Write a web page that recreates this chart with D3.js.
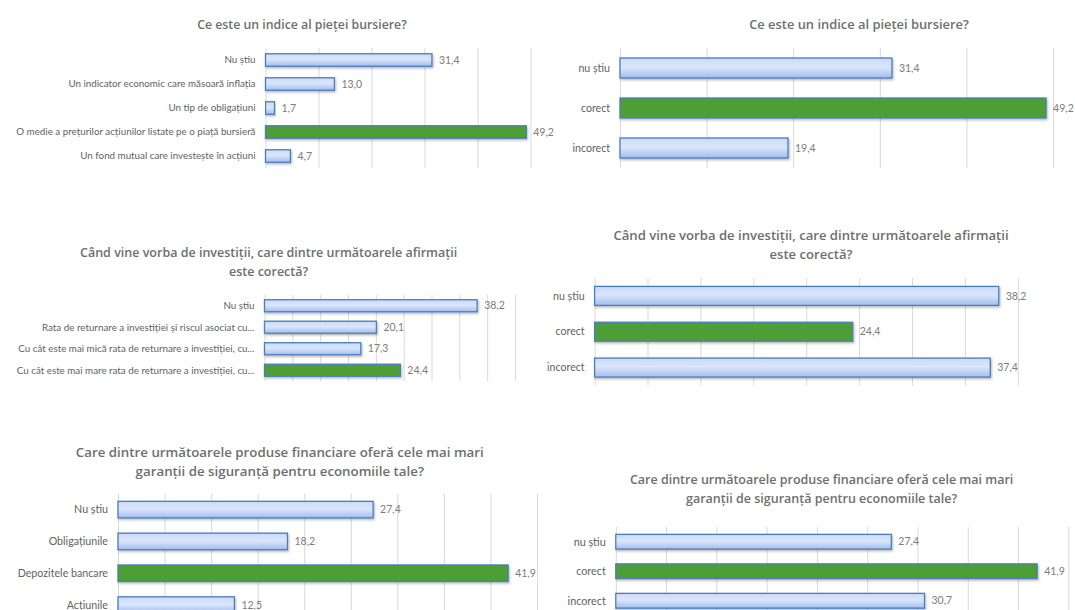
<!DOCTYPE html>
<html>
<head>
<meta charset="utf-8">
<script src="https://cdn.jsdelivr.net/npm/d3@7"></script>
<style>
  html, body { margin: 0; padding: 0; background: #ffffff; }
  svg { display: block; }
  .title { font-family: "Open Sans", "Noto Sans", sans-serif; font-weight: 600; fill: #6e6e6e; }
  .cat { font-family: Lato, "Noto Sans", sans-serif; fill: #626262; }
  .val { font-family: Lato, "Noto Sans", sans-serif; fill: #7c7c7c; }
  .grid line { stroke: #d9d9d9; stroke-width: 1; }
</style>
</head>
<body>
<svg id="chart" width="1075" height="610"></svg>
<script>
// ---- Question 1: stock market index ----
const q1Title = ["Ce este un indice al pieței bursiere?"];
const q1Categories = [
  "Nu știu",
  "Un indicator economic care măsoară inflația",
  "Un tip de obligațiuni",
  "O medie a prețurilor acțiunilor listate pe o piață bursieră",
  "Un fond mutual care investește în acțiuni"
];
const q1Values = [31.4, 13.0, 1.7, 49.2, 4.7];
const q1Correct = 3;

// ---- Question 2: return and risk ----
const q2Title = ["Când vine vorba de investiții, care dintre următoarele afirmații", "este corectă?"];
const q2Categories = [
  "Nu știu",
  "Rata de returnare a investiției și riscul asociat cu...",
  "Cu cât este mai mică rata de returnare a investiției, cu...",
  "Cu cât este mai mare rata de returnare a investiției, cu..."
];
const q2Values = [38.2, 20.1, 17.3, 24.4];
const q2Correct = 3;

// ---- Question 3: safest financial product ----
const q3Title = ["Care dintre următoarele produse financiare oferă cele mai mari", "garanții de siguranță pentru economiile tale?"];
const q3Categories = ["Nu știu", "Obligațiunile", "Depozitele bancare", "Acțiunile"];
const q3Values = [27.4, 18.2, 41.9, 12.5];
const q3Correct = 2;

// ---- Grouped answers (don't know / correct / incorrect) ----
const groupCategories = ["nu știu", "corect", "incorect"];
const groupCorrect = 1;
const q1Grouped = [31.4, 49.2, 19.4];
const q2Grouped = [38.2, 24.4, 37.4];
const q3Grouped = [27.4, 41.9, 30.7];

// ---- Axis maxima and gridline steps ----
const axisMax = [50, 50, 45, 40, 45, 45];
const axisStep = [10, 10, 5, 5, 5, 5];

const fmt = d3.formatLocale({ decimal: ",", thousands: ".", grouping: [3], currency: ["", ""] }).format(".1f");

const svg = d3.select("#chart");
const defs = svg.append("defs");

const grad = defs.append("linearGradient")
  .attr("id", "blueFill").attr("x1", 0).attr("y1", 0).attr("x2", 0).attr("y2", 1);
grad.append("stop").attr("offset", "0%").attr("stop-color", "#cbdaf8");
grad.append("stop").attr("offset", "45%").attr("stop-color", "#dbe6fb");
grad.append("stop").attr("offset", "100%").attr("stop-color", "#a3bdee");

const shadow = defs.append("filter").attr("id", "barShadow")
  .attr("x", "-5%").attr("y", "-20%").attr("width", "115%").attr("height", "160%");
shadow.append("feDropShadow")
  .attr("dx", 1).attr("dy", 1.5).attr("stdDeviation", 1)
  .attr("flood-color", "#000").attr("flood-opacity", 0.28);

// panel layout: plot box, title placement, type sizes
const panels = [
  { title: q1Title, cats: q1Categories, vals: q1Values, correct: q1Correct,
    x0: 265.5, x1: 530.5, y0: 48, y1: 168, pad: 0.48,
    tx: 302, ty: [29], tSize: 12.3, cSize: 9.8, vSize: 10.5 },
  { title: q1Title, cats: groupCategories, vals: q1Grouped, correct: groupCorrect,
    x0: 620, x1: 1053, y0: 48, y1: 168, pad: 0.5,
    tx: 859, ty: [28.5], tSize: 12.9, cSize: 10.6, vSize: 10.5 },
  { title: q2Title, cats: q2Categories, vals: q2Values, correct: q2Correct,
    x0: 264.5, x1: 515, y0: 295, y1: 381, pad: 0.44,
    tx: 268.6, ty: [257, 276], tSize: 12.5, cSize: 9.8, vSize: 10.5 },
  { title: q2Title, cats: groupCategories, vals: q2Grouped, correct: groupCorrect,
    x0: 594.6, x1: 1017.8, y0: 278, y1: 385.5, pad: 0.47,
    tx: 811, ty: [240, 258.5], tSize: 13.1, cSize: 10.6, vSize: 10.5 },
  { title: q3Title, cats: q3Categories, vals: q3Values, correct: q3Correct,
    x0: 118, x1: 537, y0: 493.7, y1: 621, pad: 0.48,
    tx: 279.8, ty: [457, 476], tSize: 13.3, cSize: 10.7, vSize: 10.5 },
  { title: q3Title, cats: groupCategories, vals: q3Grouped, correct: groupCorrect,
    x0: 615.8, x1: 1068.3, y0: 527, y1: 615.5, pad: 0.5,
    tx: 821.6, ty: [484, 503], tSize: 12.5, cSize: 10.8, vSize: 10.5 }
];

panels.forEach((p, i) => {
  const g = svg.append("g").attr("class", "panel");
  const max = axisMax[i];
  const x = d3.scaleLinear().domain([0, max]).range([p.x0, p.x1]);
  const y = d3.scaleBand().domain(p.cats).range([p.y0, p.y1]).paddingInner(p.pad).paddingOuter(p.pad / 2);

  // vertical gridlines
  const grid = d3.axisBottom(x)
    .tickValues(d3.range(0, max + 0.001, axisStep[i]))
    .tickSize(-(p.y1 - p.y0))
    .tickFormat("");
  g.append("g").attr("class", "grid")
    .attr("transform", `translate(0,${p.y1})`)
    .call(grid)
    .call(s => s.select(".domain").remove());

  // title
  const t = g.append("text").attr("class", "title")
    .attr("text-anchor", "middle")
    .style("font-size", p.tSize + "px");
  p.title.forEach((line, k) => {
    t.append("tspan").attr("x", p.tx).attr("y", p.ty[k]).text(line);
  });

  // category labels
  g.selectAll("text.cat").data(p.cats).join("text")
    .attr("class", "cat")
    .attr("x", p.x0 - 10)
    .attr("y", d => y(d) + y.bandwidth() / 2)
    .attr("dy", "0.35em")
    .attr("text-anchor", "end")
    .style("font-size", p.cSize + "px")
    .text(d => d);

  // bars
  g.selectAll("rect.bar").data(p.vals).join("rect")
    .attr("class", "bar")
    .attr("x", x(0))
    .attr("y", (d, k) => y(p.cats[k]))
    .attr("width", d => x(d) - x(0))
    .attr("height", y.bandwidth())
    .attr("fill", (d, k) => k === p.correct ? "#4d9e35" : "url(#blueFill)")
    .attr("stroke", "#4a7ebb")
    .attr("stroke-width", 1.3)
    .attr("filter", "url(#barShadow)");

  // value labels
  g.selectAll("text.val").data(p.vals).join("text")
    .attr("class", "val")
    .attr("x", d => x(d) + 7)
    .attr("y", (d, k) => y(p.cats[k]) + y.bandwidth() / 2)
    .attr("dy", "0.35em")
    .style("font-size", p.vSize + "px")
    .text(d => fmt(d));
});
</script>
</body>
</html>
